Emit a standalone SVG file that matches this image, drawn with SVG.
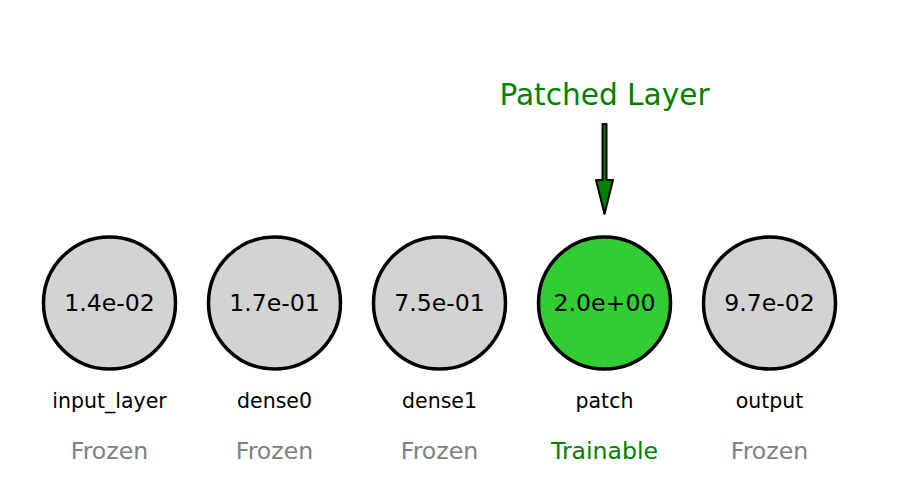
<svg xmlns="http://www.w3.org/2000/svg" width="911" height="483" viewBox="0 0 911 483">
<style>
.node circle{stroke:#000;stroke-width:3.5}
.frozen circle{fill:#d3d3d3}
.train circle{fill:#32cd32}
text{font-family:"DejaVu Sans",sans-serif;text-anchor:middle;dominant-baseline:central}
.val{font-size:23.6px;fill:#000}
.name{font-size:20.5px;fill:#000}
.st{font-size:23.6px;fill:#808080}
.st.g{fill:#008000}
</style>
<rect width="911" height="483" fill="#fff"/>
<g id="input_layer" class="node frozen">
<circle cx="109.5" cy="303" r="66"/>
<text class="val" x="109.5" y="303">1.4e-02</text>
<text class="name" x="109.5" y="401">input_layer</text>
<text class="st" x="109.5" y="451">Frozen</text>
</g>
<g id="dense0" class="node frozen">
<circle cx="274.5" cy="303" r="66"/>
<text class="val" x="274.5" y="303">1.7e-01</text>
<text class="name" x="274.5" y="401">dense0</text>
<text class="st" x="274.5" y="451">Frozen</text>
</g>
<g id="dense1" class="node frozen">
<circle cx="439.5" cy="303" r="66"/>
<text class="val" x="439.5" y="303">7.5e-01</text>
<text class="name" x="439.5" y="401">dense1</text>
<text class="st" x="439.5" y="451">Frozen</text>
</g>
<g id="patch" class="node train">
<circle cx="604.5" cy="303" r="66"/>
<text class="val" x="604.5" y="303">2.0e+00</text>
<text class="name" x="604.5" y="401">patch</text>
<text class="st g" x="604.5" y="451">Trainable</text>
</g>
<g id="output" class="node frozen">
<circle cx="769.5" cy="303" r="66"/>
<text class="val" x="769.5" y="303">9.7e-02</text>
<text class="name" x="769.5" y="401">output</text>
<text class="st" x="769.5" y="451">Frozen</text>
</g>
<g id="annotation">
<text x="604.5" y="95" font-size="29.6" fill="#008000">Patched Layer</text>
</g>
<g id="connectors">
<polygon points="602.5,124 606.5,124 606.5,180 613,180 604.5,214 596,180 602.5,180" fill="#008000" stroke="#000" stroke-width="2" stroke-linejoin="round"/>
</g>
</svg>
